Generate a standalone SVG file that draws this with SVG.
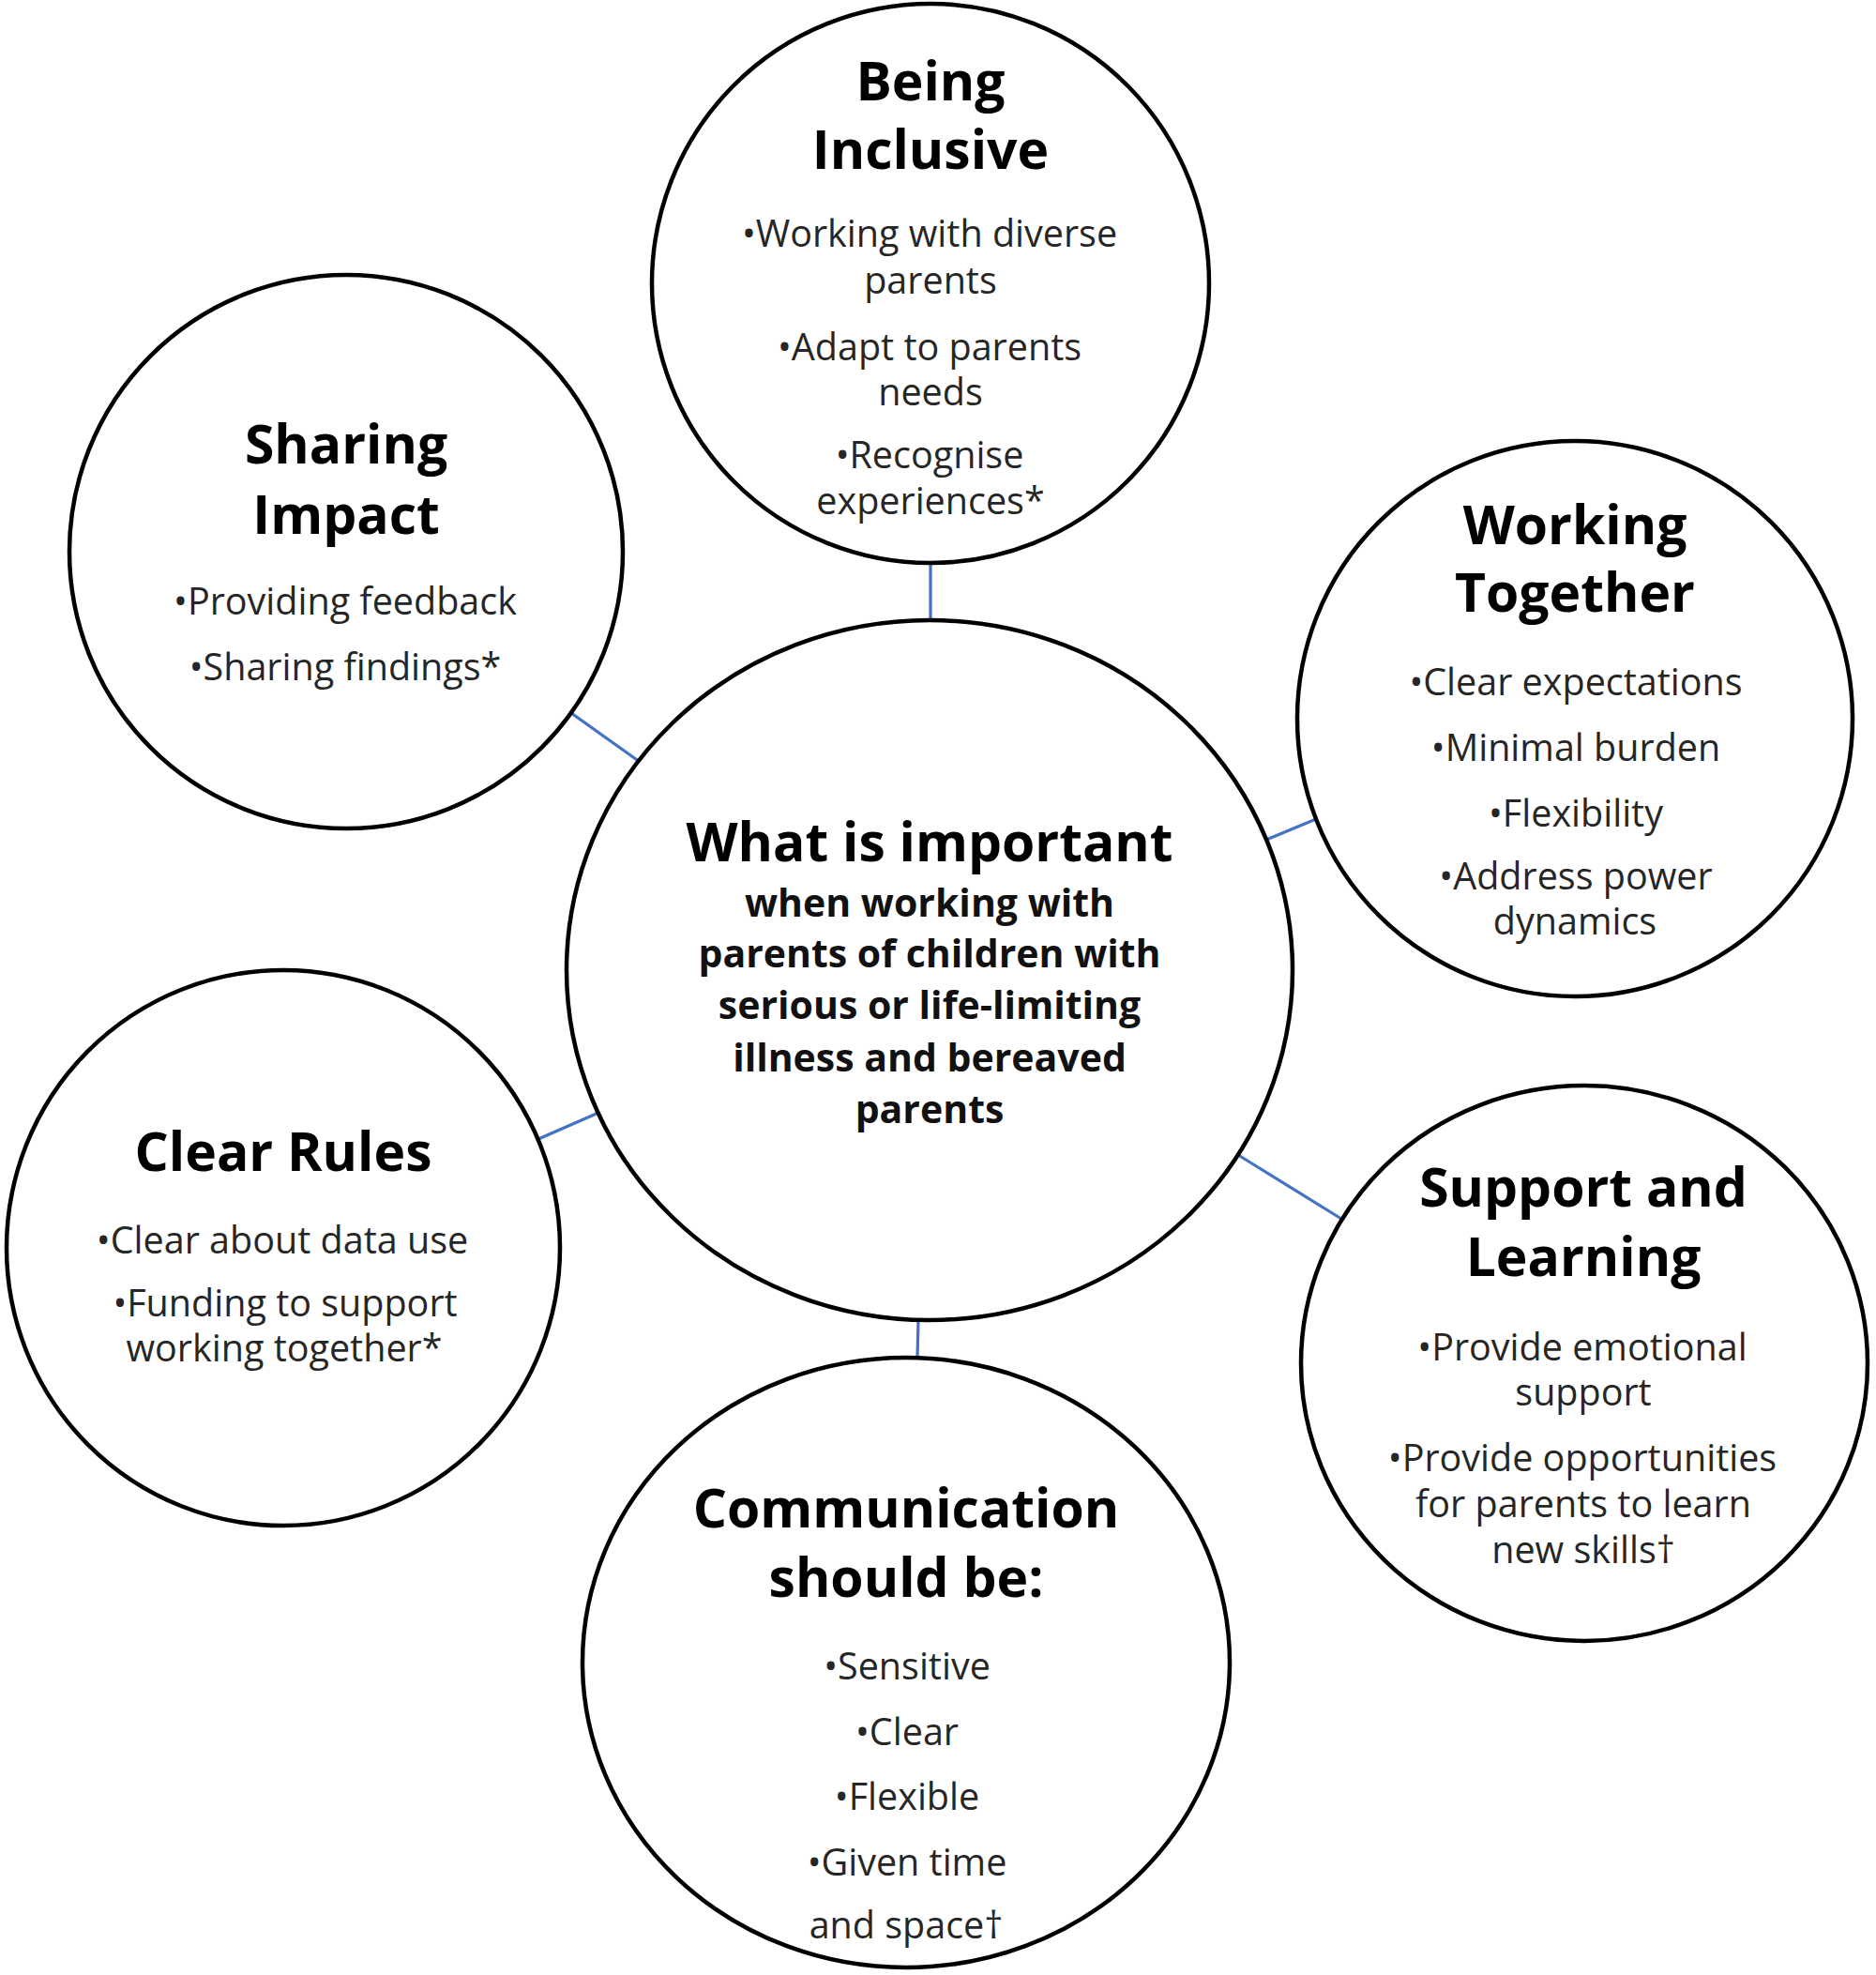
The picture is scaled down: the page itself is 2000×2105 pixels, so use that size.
<svg xmlns="http://www.w3.org/2000/svg" width="2000" height="2105" viewBox="0 0 2000 2105">
<style>
.c{fill:#fff;stroke:#000;stroke-width:4.5}
.t{font-family:"Open Sans","Noto Sans",sans-serif;font-weight:700;font-size:57px;fill:#000;text-anchor:middle}
.s{font-family:"Open Sans","Noto Sans",sans-serif;font-weight:700;font-size:41px;fill:#111;text-anchor:middle}
.b{font-family:"Open Sans","Noto Sans",sans-serif;font-size:39.5px;fill:#262626;text-anchor:middle}
.k{stroke:#4472C4;stroke-width:3.2;fill:none}
</style>
<rect width="2000" height="2105" fill="#fff"/>
<g id="connectors">
<line class="k" x1="992" y1="600" x2="992" y2="661"/>
<line class="k" x1="609" y1="760" x2="682" y2="812"/>
<line class="k" x1="1350" y1="895" x2="1403" y2="873"/>
<line class="k" x1="574" y1="1214" x2="638" y2="1186"/>
<line class="k" x1="1320" y1="1231" x2="1430" y2="1299"/>
<line class="k" x1="979" y1="1407" x2="978" y2="1447"/>
</g>
<g id="center">
<ellipse class="c" cx="991" cy="1034" rx="387" ry="373"/>
<text class="t" x="991" y="918">What is important</text>
<text class="s" x="991" y="977">when working with</text>
<text class="s" x="991" y="1031">parents of children with</text>
<text class="s" x="991" y="1086">serious or life-limiting</text>
<text class="s" x="991" y="1142">illness and bereaved</text>
<text class="s" x="991" y="1197">parents</text>
</g>
<g id="being-inclusive">
<ellipse class="c" cx="992" cy="302" rx="297" ry="298"/>
<text class="t" x="992" y="107">Being</text>
<text class="t" x="992" y="180">Inclusive</text>
<text class="b" x="991" y="263">•Working with diverse</text>
<text class="b" x="992" y="313">parents</text>
<text class="b" x="991" y="384">•Adapt to parents</text>
<text class="b" x="992" y="432">needs</text>
<text class="b" x="991" y="499">•Recognise</text>
<text class="b" x="992" y="548">experiences*</text>
</g>
<g id="sharing-impact">
<ellipse class="c" cx="369" cy="588" rx="295" ry="295"/>
<text class="t" x="369" y="494">Sharing</text>
<text class="t" x="369" y="569">Impact</text>
<text class="b" x="368" y="655">•Providing feedback</text>
<text class="b" x="368" y="725">•Sharing findings*</text>
</g>
<g id="working-together">
<ellipse class="c" cx="1679" cy="766" rx="296" ry="296"/>
<text class="t" x="1679" y="580">Working</text>
<text class="t" x="1679" y="652">Together</text>
<text class="b" x="1680" y="741">•Clear expectations</text>
<text class="b" x="1680" y="811">•Minimal burden</text>
<text class="b" x="1680" y="881">•Flexibility</text>
<text class="b" x="1680" y="948">•Address power</text>
<text class="b" x="1679" y="996">dynamics</text>
</g>
<g id="clear-rules">
<ellipse class="c" cx="302" cy="1330" rx="295" ry="296"/>
<text class="t" x="302" y="1248">Clear Rules</text>
<text class="b" x="301" y="1336">•Clear about data use</text>
<text class="b" x="304" y="1403">•Funding to support</text>
<text class="b" x="303" y="1451">working together*</text>
</g>
<g id="support-learning">
<ellipse class="c" cx="1689" cy="1453" rx="302" ry="296"/>
<text class="t" x="1688" y="1286">Support and</text>
<text class="t" x="1688" y="1360">Learning</text>
<text class="b" x="1687" y="1450">•Provide emotional</text>
<text class="b" x="1688" y="1498">support</text>
<text class="b" x="1687" y="1568">•Provide opportunities</text>
<text class="b" x="1688" y="1617">for parents to learn</text>
<text class="b" x="1688" y="1666">new skills†</text>
</g>
<g id="communication">
<ellipse class="c" cx="966" cy="1772" rx="345" ry="325"/>
<text class="t" x="966" y="1628">Communication</text>
<text class="t" x="966" y="1702">should be:</text>
<text class="b" x="967" y="1790">•Sensitive</text>
<text class="b" x="967" y="1860">•Clear</text>
<text class="b" x="967" y="1929">•Flexible</text>
<text class="b" x="967" y="1999">•Given time</text>
<text class="b" x="966" y="2066">and space†</text>
</g>
</svg>
